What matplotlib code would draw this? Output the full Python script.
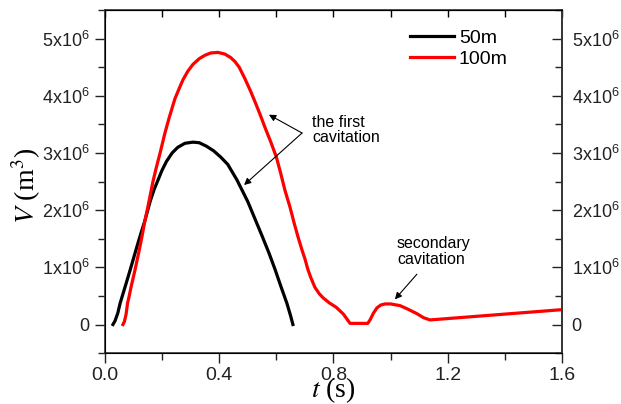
import numpy as np
import matplotlib
matplotlib.use('Agg')
import matplotlib.pyplot as plt
from matplotlib.ticker import MultipleLocator, FuncFormatter

plt.rcParams['font.family'] = ['Liberation Sans', 'DejaVu Sans']
plt.rcParams['mathtext.fontset'] = 'custom'
plt.rcParams['mathtext.rm'] = 'Liberation Sans'
plt.rcParams['mathtext.it'] = 'Liberation Sans:italic'
plt.rcParams['mathtext.default'] = 'rm'

# cavity volume, values in units of 1e6 m^3
t_50 = [0.028, 0.035, 0.045, 0.053, 0.07, 0.088, 0.11, 0.125, 0.14, 0.158, 0.172, 0.186,
        0.2, 0.215, 0.235, 0.255, 0.28, 0.308, 0.33, 0.355, 0.38, 0.405, 0.43, 0.462,
        0.48, 0.50, 0.525, 0.55, 0.575, 0.595, 0.615, 0.637, 0.65, 0.658]
v_50 = [0.0, 0.06, 0.2, 0.37, 0.65, 0.95, 1.33, 1.58, 1.82, 2.15, 2.36, 2.53,
        2.7, 2.85, 3.0, 3.1, 3.17, 3.19, 3.18, 3.12, 3.04, 2.93, 2.8, 2.53,
        2.35, 2.15, 1.85, 1.55, 1.24, 0.97, 0.68, 0.37, 0.15, 0.0]

t_100 = [0.063, 0.068, 0.074, 0.079, 0.085, 0.092, 0.105, 0.12, 0.13, 0.14, 0.15, 0.16,
         0.168, 0.18, 0.193, 0.21, 0.225, 0.245, 0.26, 0.273, 0.29, 0.308, 0.33, 0.35,
         0.37, 0.396, 0.42, 0.44, 0.455, 0.47, 0.49, 0.51, 0.525, 0.545, 0.56, 0.58,
         0.60, 0.615, 0.63, 0.648, 0.662, 0.676, 0.69, 0.70, 0.71, 0.72, 0.735, 0.75,
         0.763, 0.785, 0.81, 0.835, 0.858, 0.92, 0.928, 0.94, 0.952, 0.965, 0.98, 1.0,
         1.033, 1.06, 1.092, 1.115, 1.138, 1.6]
v_100 = [0.0, 0.05, 0.18, 0.37, 0.5, 0.67, 0.95, 1.3, 1.55, 1.82, 2.05, 2.3,
         2.5, 2.75, 3.0, 3.35, 3.62, 3.95, 4.13, 4.28, 4.43, 4.55, 4.65, 4.71,
         4.75, 4.76, 4.73, 4.67, 4.6, 4.5, 4.3, 4.08, 3.9, 3.65, 3.45, 3.2,
         2.93, 2.65, 2.35, 2.05, 1.78, 1.53, 1.3, 1.15, 0.97, 0.83, 0.65, 0.54,
         0.47, 0.38, 0.3, 0.18, 0.02, 0.02, 0.08, 0.2, 0.29, 0.34, 0.36, 0.36,
         0.33, 0.27, 0.19, 0.12, 0.08, 0.26]

labels = ['50m', '100m']
colors = ['black', 'red']


def ytick_fmt(v, pos):
    if abs(v) < 1:
        return '0'
    return '%dx10$^{6}$' % round(v / 1e6)


fig = plt.figure(figsize=(6.21, 4.04), dpi=100)
ax = fig.add_axes([0.169, 0.126, 0.736, 0.849])

ax.plot(t_50, np.array(v_50) * 1e6, color=colors[0], lw=2.3, label=labels[0])
ax.plot(t_100, np.array(v_100) * 1e6, color=colors[1], lw=2.3, label=labels[1])

ax.set_xlim(0, 1.6)
ax.set_ylim(-0.5e6, 5.5e6)
ax.xaxis.set_major_locator(MultipleLocator(0.4))
ax.xaxis.set_minor_locator(MultipleLocator(0.2))
ax.yaxis.set_major_locator(MultipleLocator(1e6))
ax.yaxis.set_minor_locator(MultipleLocator(0.5e6))
ax.yaxis.set_major_formatter(FuncFormatter(ytick_fmt))
ax.tick_params(which='both', direction='out', width=1.0, colors='#222222')
ax.tick_params(axis='x', labelsize=14, pad=3)
ax.tick_params(axis='y', labelsize=13, pad=4)
ax.tick_params(which='major', length=7)
ax.tick_params(which='minor', length=5)
for s in ax.spines.values():
    s.set_linewidth(1.2)
    s.set_color('#333333')

# mirrored axes, ticks pointing inwards
top = ax.secondary_xaxis('top')
top.xaxis.set_major_locator(MultipleLocator(0.4))
top.xaxis.set_minor_locator(MultipleLocator(0.2))
top.tick_params(which='both', direction='in', labeltop=False, length=5, width=1.0)

rax = ax.twinx()
rax.set_ylim(ax.get_ylim())
rax.yaxis.set_major_locator(MultipleLocator(1e6))
rax.yaxis.set_minor_locator(MultipleLocator(0.5e6))
rax.yaxis.set_major_formatter(FuncFormatter(ytick_fmt))
rax.tick_params(which='both', direction='in', labelsize=13, width=1.0, pad=7, colors='#222222')
rax.tick_params(which='major', length=7)
rax.tick_params(which='minor', length=5)
rax.spines['right'].set_linewidth(1.2)
rax.spines['right'].set_color('#333333')

ax.set_xlabel(r'$\mathit{t}$ (s)', fontsize=20, family='Liberation Serif', math_fontfamily='stix', va='center')
ax.xaxis.set_label_coords(0.5, -0.108)
ax.set_ylabel(r'$\mathit{V}$ (m$^{3}$)', fontsize=20, family='Liberation Serif', math_fontfamily='stix', va='center')
ax.yaxis.set_label_coords(-0.172, 0.487)

ax.legend(loc='upper left', bbox_to_anchor=(0.667, 0.943), frameon=False, fontsize=14,
          handlelength=2.27, handletextpad=0.26, labelspacing=0.15, borderpad=0, borderaxespad=0)

arrow = dict(arrowstyle='-|>', color='black', lw=0.8, mutation_scale=10, shrinkA=0, shrinkB=0)
ax.text(0.725, 3.4e6, 'the first\ncavitation', fontsize=11.5, ha='left', va='center', linespacing=1.05)
ax.annotate('', xy=(0.574, 3.67e6), xytext=(0.69, 3.35e6), arrowprops=arrow)
ax.annotate('', xy=(0.487, 2.44e6), xytext=(0.69, 3.35e6), arrowprops=arrow)

ax.text(1.022, 1.28e6, 'secondary\ncavitation', fontsize=11.5, ha='left', va='center', linespacing=1.05)
ax.annotate('', xy=(1.015, 0.44e6), xytext=(1.092, 0.88e6), arrowprops=arrow)

plt.savefig('out.png', dpi=100)
